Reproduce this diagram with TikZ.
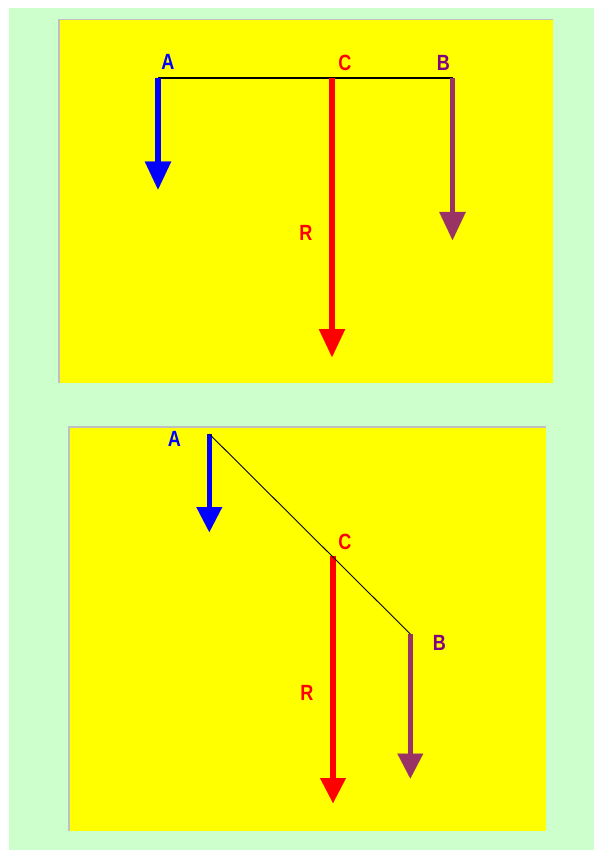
\documentclass[tikz,border=0pt]{standalone}
\usepackage{fontspec}
\setmainfont{Liberation Sans}
\usetikzlibrary{arrows.meta}
\definecolor{bggreen}{HTML}{CCFFCC}
\definecolor{panelyellow}{HTML}{FFFF00}
\definecolor{edgegray}{HTML}{C0C0C0}
\definecolor{forceblue}{HTML}{0000FF}
\definecolor{forcered}{HTML}{FF0000}
\definecolor{forcepurple}{HTML}{993366}
\definecolor{labpurple}{HTML}{800080}
\begin{document}
\begin{tikzpicture}[x=1pt,y=-1pt,
  forceone/.style={line width=5.5pt,-{Triangle[width=26.5pt,length=28pt,line width=0.01pt]}},
  forcetwo/.style={line width=5.5pt,-{Triangle[width=26pt,length=25pt,line width=0.01pt]}},
  lab/.style={font=\bfseries\fontsize{22}{22}\selectfont,inner sep=0pt,xscale=0.82},
  panelbox/.style={fill=panelyellow},
  paneledge/.style={draw=edgegray,line width=1.5pt},
  beam/.style={draw=black,line width=1.5pt},
  slant/.style={draw=black,line width=0.9pt},
]
\useasboundingbox (0,0) rectangle (594,850);
\fill[white] (0,0) rectangle (594,850);
\fill[bggreen] (9,7.7) rectangle (594,850);

% ---------- panel 1 ----------
\fill[panelbox] (58,19) rectangle (553,383);
\draw[paneledge] (58.75,383) -- (58.75,19.75) -- (553,19.75);

\coordinate (A1) at (158,78);
\coordinate (A1t) at (158,189.5);
\coordinate (C1) at (332,78);
\coordinate (C1t) at (332,357);
\coordinate (B1) at (452.5,78);
\coordinate (B1t) at (452.5,240);

\draw[beam] (A1) -- (B1);
\draw[forceone,forceblue] (A1) -- (A1t);
\draw[forceone,forcered] (C1) -- (C1t);
\draw[forceone,forcepurple] (B1) -- (B1t);

\node[lab,text=forceblue] (lA1) at (168,62) {A};
\node[lab,text=forcered] (lC1) at (345,62.5) {C};
\node[lab,text=labpurple] (lB1) at (443.5,62.5) {B};
\node[lab,text=forcered] (lR1) at (306,233) {R};

% ---------- panel 2 ----------
\fill[panelbox] (68,426) rectangle (546,831);
\draw[paneledge] (68.75,831) -- (68.75,426.75) -- (546,426.75);

\coordinate (A2) at (209.3,434);
\coordinate (A2t) at (209.3,532);
\coordinate (C2) at (333,555.5);
\coordinate (C2t) at (333,803);
\coordinate (B2) at (410.3,634);
\coordinate (B2t) at (410.3,778.5);

\draw[forcetwo,forceblue] (A2) -- (A2t);
\draw[forcetwo,forcered] (C2) -- (C2t);
\draw[forcetwo,forcepurple] (B2) -- (B2t);
\draw[slant] (A2) -- (B2);

\node[lab,text=forceblue] (lA2) at (174.3,439.3) {A};
\node[lab,text=forcered] (lC2) at (345,541.7) {C};
\node[lab,text=labpurple] (lB2) at (439.5,642.5) {B};
\node[lab,text=forcered] (lR2) at (307,693) {R};
\end{tikzpicture}
\end{document}
